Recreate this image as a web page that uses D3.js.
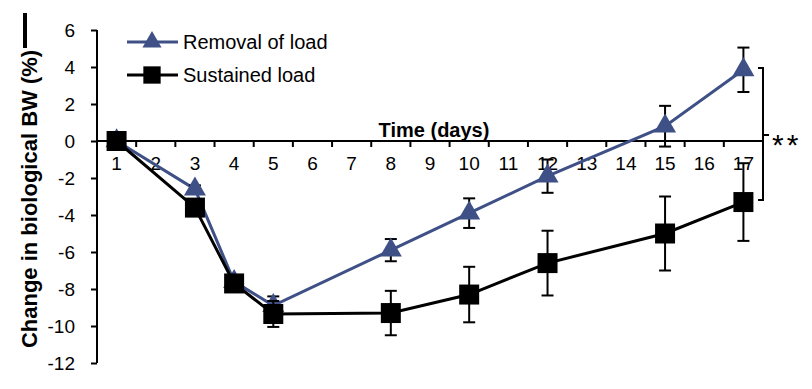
<!DOCTYPE html>
<html>
<head>
<meta charset="utf-8">
<script src="https://cdn.jsdelivr.net/npm/d3@7"></script>
<style>
  body { margin: 0; background: #fff; }
  text { font-family: Arial, "Liberation Sans", sans-serif; }
</style>
</head>
<body>
<div id="chart"></div>
<script>
// data
const days = ["1","2","3","4","5","6","7","8","9","10","11","12","13","14","15","16","17"];
const sampleDays = ["1","3","4","5","8","10","12","15","17"];
const removalMean = [0, -2.6, -7.6, -8.9, -5.9, -3.9, -1.9, 0.8, 3.85];
const removalErr  = [0, 0.2, 0.3, 0.5, 0.6, 0.8, 0.9, 1.1, 1.2];
const sustainedMean = [0, -3.6, -7.7, -9.35, -9.3, -8.3, -6.6, -5.0, -3.3];
const sustainedErr  = [0, 0.3, 0.3, 0.7, 1.2, 1.5, 1.75, 2.0, 2.1];
const yTicks = [-12, -10, -8, -6, -4, -2, 0, 2, 4, 6];

const width = 812, height = 389;
const blue = "#3f5086";

const svg = d3.select("#chart").append("svg")
  .attr("width", width).attr("height", height);

const x = d3.scaleBand().domain(days).range([97, 763]).padding(0);
const y = d3.scaleLinear().domain([-12, 6]).range([363, 30]);
const cx = d => x(d) + x.bandwidth() / 2;

// y axis (plain hyphen for negatives, like the original)
const yAxis = svg.append("g")
  .attr("transform", "translate(97,0)")
  .call(d3.axisLeft(y).tickValues(yTicks).tickFormat(d => String(d)).tickSize(6).tickPadding(16));
yAxis.select(".domain").attr("stroke", "#000").attr("stroke-width", 2).attr("d", `M0,${y(6)}V${y(-12)}`);
yAxis.selectAll(".tick line").attr("stroke", "#000").attr("stroke-width", 2);
yAxis.selectAll(".tick text").attr("font-size", 19).attr("fill", "#000");

// x axis along y = 0
const x0 = y(0);
svg.append("line")
  .attr("x1", 97).attr("x2", 763).attr("y1", x0).attr("y2", x0)
  .attr("stroke", "#000").attr("stroke-width", 2);
svg.selectAll(".xtick")
  .data(days.slice(1))
  .join("line")
  .attr("class", "xtick")
  .attr("x1", d => x(d)).attr("x2", d => x(d))
  .attr("y1", x0).attr("y2", x0 + 6)
  .attr("stroke", "#000").attr("stroke-width", 2);
const xAxis = svg.append("g")
  .attr("transform", `translate(0,${x0})`)
  .call(d3.axisBottom(x).tickSize(0).tickPadding(16));
xAxis.select(".domain").remove();
xAxis.selectAll(".tick text").attr("font-size", 19).attr("fill", "#000");

svg.append("text")
  .attr("x", 434).attr("y", 137)
  .attr("text-anchor", "middle")
  .attr("font-size", 20).attr("font-weight", "bold")
  .text("Time (days)");

// y title
svg.append("text")
  .attr("transform", "translate(37,199) rotate(-90)")
  .attr("text-anchor", "middle")
  .attr("font-size", 22).attr("font-weight", "bold")
  .text("Change in biological BW (%)");
svg.append("line")
  .attr("x1", 25).attr("x2", 25).attr("y1", 13).attr("y2", 48)
  .attr("stroke", "#000").attr("stroke-width", 4);

// series
const series = [
  { name: "Removal of load", mean: removalMean, err: removalErr, color: blue, shape: d3.symbolTriangle, size: 210 },
  { name: "Sustained load", mean: sustainedMean, err: sustainedErr, color: "#000", shape: d3.symbolSquare, size: 400 }
];

const line = d3.line().x(d => cx(d.day)).y(d => y(d.v));

series.forEach(s => {
  const pts = sampleDays.map((d, i) => ({ day: d, v: s.mean[i], e: s.err[i] }));
  const g = svg.append("g");
  g.append("path")
    .datum(pts)
    .attr("d", line)
    .attr("fill", "none")
    .attr("stroke", s.color)
    .attr("stroke-width", 3);
  const eb = g.selectAll(".eb")
    .data(pts.filter(p => p.e > 0))
    .join("g");
  eb.append("line")
    .attr("x1", p => cx(p.day)).attr("x2", p => cx(p.day))
    .attr("y1", p => y(p.v + p.e)).attr("y2", p => y(p.v - p.e))
    .attr("stroke", "#000").attr("stroke-width", 2);
  [1, -1].forEach(sign => {
    eb.append("line")
      .attr("x1", p => cx(p.day) - 6).attr("x2", p => cx(p.day) + 6)
      .attr("y1", p => y(p.v + sign * p.e)).attr("y2", p => y(p.v + sign * p.e))
      .attr("stroke", "#000").attr("stroke-width", 2);
  });
  g.selectAll(".mk")
    .data(pts)
    .join("path")
    .attr("transform", p => `translate(${cx(p.day)},${y(p.v)})`)
    .attr("d", d3.symbol(s.shape, s.size))
    .attr("fill", s.color);
});

// legend
series.forEach((s, i) => {
  const ly = 42 + i * 33;
  svg.append("line")
    .attr("x1", 127).attr("x2", 178).attr("y1", ly).attr("y2", ly)
    .attr("stroke", s.color).attr("stroke-width", 3);
  svg.append("path")
    .attr("transform", `translate(152,${ly})`)
    .attr("d", d3.symbol(s.shape, s.size * 0.75))
    .attr("fill", s.color);
  svg.append("text")
    .attr("x", 183).attr("y", ly + 7)
    .attr("font-size", 20)
    .text(s.name);
});

// significance bracket
svg.append("path")
  .attr("d", "M758,68H763V200H758M763,135H769")
  .attr("fill", "none").attr("stroke", "#000").attr("stroke-width", 2);
svg.append("text")
  .attr("x", 772).attr("y", 155)
  .attr("font-size", 30)
  .attr("letter-spacing", 3)
  .text("**");
</script>
</body>
</html>
